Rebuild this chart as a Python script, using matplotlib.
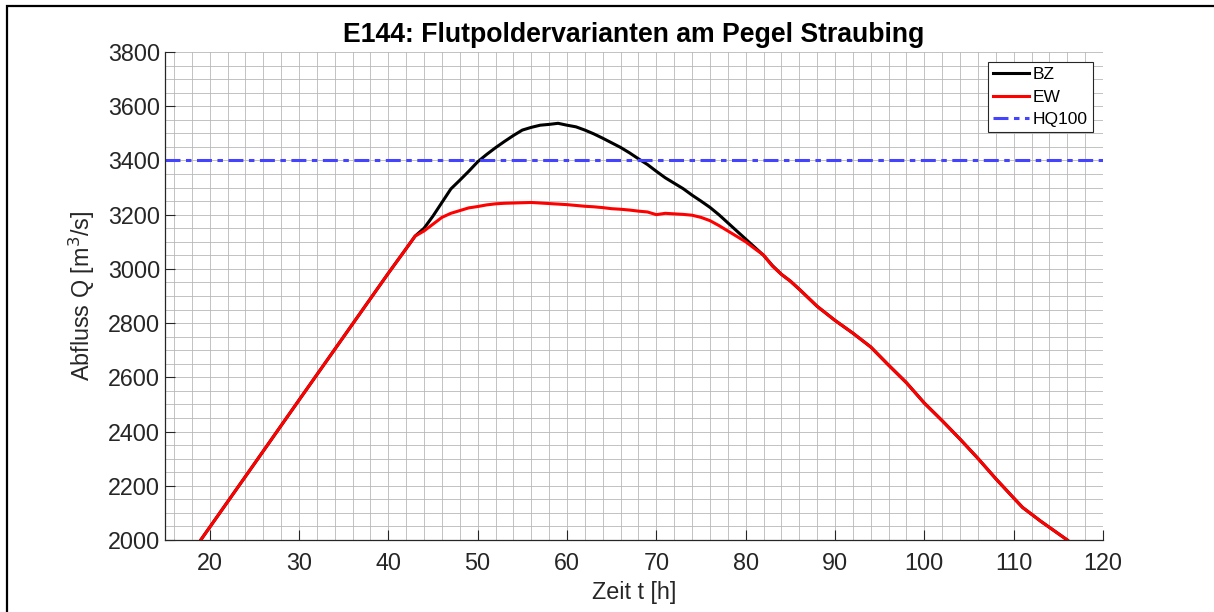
import matplotlib
matplotlib.use("Agg")
import matplotlib.pyplot as plt
from matplotlib.patches import Rectangle
from matplotlib.ticker import MultipleLocator

plt.rcParams['font.family'] = ['Liberation Sans', 'DejaVu Sans']

# Daten
bz_t = [19, 25, 30, 35, 40, 42, 43, 44, 45, 46, 47, 48, 49, 50, 51, 52, 53, 54, 55, 56, 57, 58, 59,
        60, 61, 62, 63, 64, 65, 66, 67, 68, 69, 70, 71, 72, 73, 74, 75, 76, 77, 78, 79, 80, 81, 82,
        83, 84, 85, 86, 88, 90, 92, 94, 96, 98, 100, 102, 104, 106, 108, 110, 111, 113, 116]
bz_q = [2000, 2281, 2516, 2750, 2984, 3075, 3121, 3150, 3195, 3245, 3295, 3327, 3360, 3395, 3422,
        3447, 3470, 3492, 3512, 3522, 3530, 3533, 3537, 3530, 3524, 3512, 3498, 3482, 3465, 3448,
        3428, 3406, 3385, 3360, 3336, 3316, 3296, 3272, 3250, 3227, 3200, 3170, 3140, 3110, 3080,
        3050, 3012, 2980, 2955, 2925, 2862, 2810, 2763, 2712, 2645, 2580, 2505, 2440, 2372, 2301,
        2226, 2155, 2120, 2070, 2000]

ew_t = [19, 25, 30, 35, 40, 42, 43, 44, 45, 46, 47, 48, 49, 50, 51, 52, 53, 54, 55, 56, 57, 58, 59,
        60, 61, 62, 63, 64, 65, 66, 67, 68, 69, 70, 71, 72, 73, 74, 75, 76, 77, 78, 79, 80, 81, 82,
        83, 84, 85, 86, 88, 90, 92, 94, 96, 98, 100, 102, 104, 106, 108, 110, 111, 113, 116]
ew_q = [2000, 2281, 2516, 2750, 2984, 3075, 3121, 3140, 3165, 3190, 3205, 3215, 3225, 3230, 3236,
        3240, 3242, 3243, 3244, 3245, 3243, 3241, 3239, 3237, 3234, 3231, 3229, 3226, 3222, 3220,
        3217, 3213, 3210, 3200, 3205, 3203, 3201, 3198, 3190, 3178, 3160, 3140, 3120, 3100, 3075,
        3051, 3010, 2980, 2955, 2925, 2862, 2810, 2763, 2712, 2645, 2580, 2505, 2440, 2372, 2301,
        2226, 2155, 2120, 2070, 2000]

hq100 = 3400
x_ticks = list(range(20, 121, 10))
y_ticks = list(range(2000, 3801, 200))

fig = plt.figure(figsize=(12.14, 6.12), dpi=100)
ax = fig.add_axes([165 / 1214, 72 / 612, 938 / 1214, 488 / 612])

ax.plot(bz_t, bz_q, color='black', lw=2.2, label='BZ')
ax.plot(ew_t, ew_q, color='#ff0000', lw=2.2, label='EW')
ax.axhline(hq100, color='#4444ff', lw=2.2, dashes=(4.9, 1.8, 1.8, 1.8), label='HQ100')

ax.set_xlim(15, 120)
ax.set_ylim(2000, 3800)
ax.set_xticks(x_ticks)
ax.set_yticks(y_ticks)
ax.xaxis.set_minor_locator(MultipleLocator(2))
ax.yaxis.set_minor_locator(MultipleLocator(50))
ax.grid(which='both', color='#b8b8b8', lw=0.6)
ax.set_axisbelow(True)

txt = '#262626'
ax.tick_params(which='major', direction='in', length=7, width=0.8, colors=txt, labelsize=16.8,
               top=False, right=False)
ax.tick_params(which='minor', length=0)
ax.tick_params(axis='x', pad=9)
for s in ['top', 'right']:
    ax.spines[s].set_visible(False)
for s in ['left', 'bottom']:
    ax.spines[s].set_color(txt)
    ax.spines[s].set_linewidth(0.9)

ax.set_xlabel('Zeit t [h]', fontsize=16.8, color=txt, labelpad=4)
ax.set_ylabel('Abfluss Q [m$^3$/s]', fontsize=16.8, color=txt, labelpad=8)
ax.set_title('E144: Flutpoldervarianten am Pegel Straubing', fontsize=19.2, fontweight='bold', pad=7)

leg = ax.legend(loc='upper right', bbox_to_anchor=(0.9893, 0.9795), borderaxespad=0,
                fontsize=12.5, handlelength=2.1, handletextpad=0.2, fancybox=False,
                framealpha=1, edgecolor='#262626', borderpad=0.3, labelspacing=0.42)
leg.get_frame().set_linewidth(0.8)

# Rahmen um die Abbildung
fig.patches.append(Rectangle((7 / 1214, -0.1), 1.2, 1 - 6 / 612 + 0.1, transform=fig.transFigure,
                             fill=False, lw=1.6, edgecolor='black'))

fig.savefig('out.png', dpi=100)
